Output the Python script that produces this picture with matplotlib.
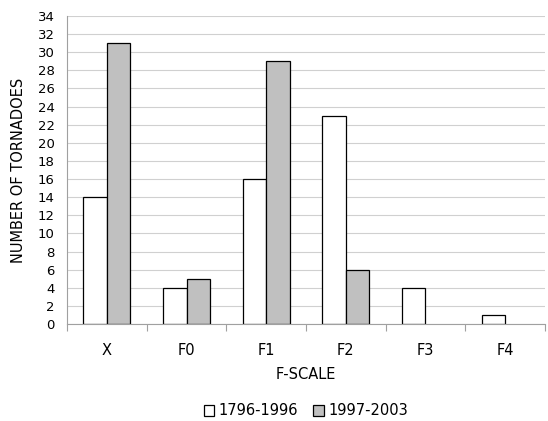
import matplotlib
matplotlib.use("Agg")
import matplotlib.pyplot as plt
import numpy as np

plt.rcParams['font.family'] = ['DejaVu Sans']

categories = ['X', 'F0', 'F1', 'F2', 'F3', 'F4']
early = [14, 4, 16, 23, 4, 1]
recent = [31, 5, 29, 6, 0, 0]
early_label = '1796-1996'
recent_label = '1997-2003'

fig = plt.figure(figsize=(5.48, 4.21), dpi=100)
ax = fig.add_axes([0.1223, 0.2304, 0.8722, 0.7316])

x = np.arange(len(categories))
w = 0.295
ax.bar(x - w / 2, early, w, color='white', edgecolor='black',
       linewidth=[0.9 if v > 0 else 0 for v in early], label=early_label, zorder=3)
ax.bar(x + w / 2, recent, w, color='#C0C0C0', edgecolor='black',
       linewidth=[0.9 if v > 0 else 0 for v in recent], label=recent_label, zorder=3)

ax.set_xlim(-0.5, len(categories) - 0.5)
ax.set_ylim(0, 34)
ax.set_yticks(range(0, 35, 2))
ax.tick_params(axis='y', length=0, labelsize=9.5, pad=9)
ax.set_xticks(x)
ax.set_xticklabels(categories)
ax.tick_params(axis='x', length=0, labelsize=10.5, pad=14)
ax.set_xticks(np.arange(-0.5, len(categories)), minor=True)
ax.tick_params(axis='x', which='minor', length=5, color='#A0A0A0', width=0.8)

ax.yaxis.grid(True, color='#D0D0D0', linewidth=0.8, zorder=0)
for s in ['top', 'right']:
    ax.spines[s].set_visible(False)
for s in ['left', 'bottom']:
    ax.spines[s].set_color('#A0A0A0')
    ax.spines[s].set_linewidth(0.8)
    ax.spines[s].set_zorder(4)

ax.set_xlabel('F-SCALE', fontsize=10.5, labelpad=6)
ax.set_ylabel('NUMBER OF TORNADOES', fontsize=10.5, labelpad=8)

leg = fig.legend(loc='center', bbox_to_anchor=(0.558, 0.024), ncol=2, frameon=False,
                 fontsize=10.5, handlelength=0.75, handleheight=0.75,
                 handletextpad=0.3, columnspacing=1.0)
for h in leg.legend_handles:
    h.set_linewidth(0.9)

fig.savefig('out.png', dpi=100)
